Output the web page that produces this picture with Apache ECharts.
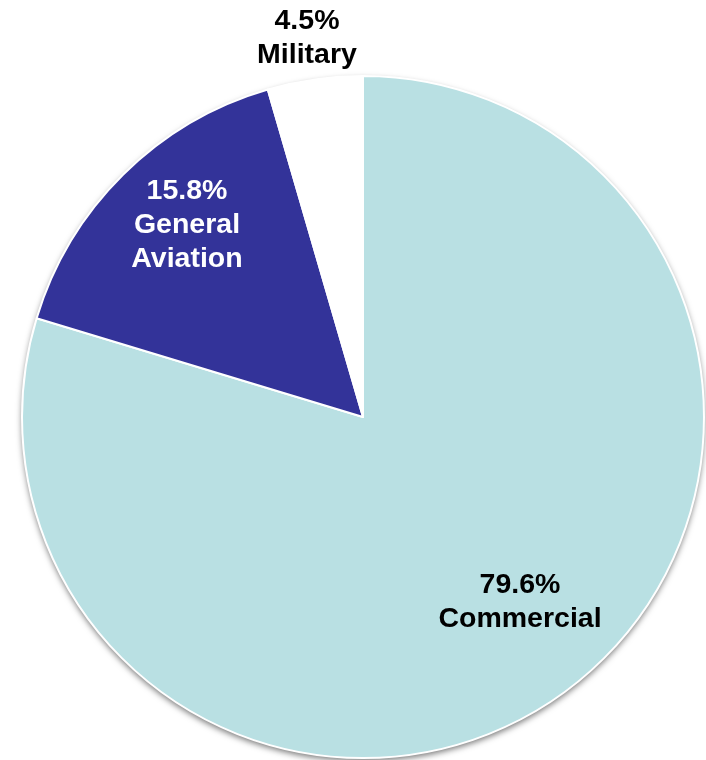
<!DOCTYPE html>
<html>
<head>
<meta charset="utf-8">
<script src="https://cdn.jsdelivr.net/npm/echarts@6/dist/echarts.min.js"></script>
<style>
  html, body { margin: 0; padding: 0; background: #ffffff; }
  #chart { width: 706px; height: 760px; }
</style>
</head>
<body>
<div id="chart"></div>
<script>
// Share of market by segment (percent)
const categories = ['Commercial', 'General Aviation', 'Military'];
const shares = [79.6, 15.8, 4.5];
const sliceColors = ['#b9e0e3', '#333399', '#ffffff'];
const labelColors = ['#000000', '#ffffff', '#000000'];

const CX = 363, CY = 417, R = 341;

// Label anchor points (pixels) for each slice
const labelSpots = [
  { x: 520, y: 602 },
  { x: 187, y: 225 },
  { x: 307, y: 38 }
];

const chart = echarts.init(document.getElementById('chart'), null, { renderer: 'canvas' });

const data = categories.map((name, i) => ({
  name: name,
  value: shares[i],
  itemStyle: { color: sliceColors[i] },
  label: { color: labelColors[i] }
}));

chart.setOption({
  animation: false,
  backgroundColor: '#ffffff',
  graphic: [{
    type: 'circle',
    z: 0,
    shape: { cx: CX, cy: CY, r: R },
    style: {
      fill: '#ffffff',
      shadowBlur: 6,
      shadowOffsetX: 0,
      shadowOffsetY: 3,
      shadowColor: 'rgba(0,0,0,0.55)'
    }
  }],
  series: [{
    type: 'pie',
    z: 2,
    center: [CX, CY],
    radius: [0, R],
    startAngle: 90,
    clockwise: true,
    silent: true,
    itemStyle: { borderColor: '#ffffff', borderWidth: 2 },
    label: {
      show: true,
      position: 'inside',
      fontFamily: 'Liberation Sans',
      fontWeight: 'bold',
      fontSize: 28.5,
      lineHeight: 34,
      align: 'center',
      formatter: p => {
        const words = p.name === 'General Aviation' ? 'General\nAviation' : p.name;
        return p.value.toFixed(1) + '%\n' + words;
      }
    },
    labelLine: { show: false },
    labelLayout: params => {
      const s = labelSpots[params.dataIndex];
      return { x: s.x, y: s.y, align: 'center', verticalAlign: 'middle' };
    },
    data: data
  }]
});
</script>
</body>
</html>
